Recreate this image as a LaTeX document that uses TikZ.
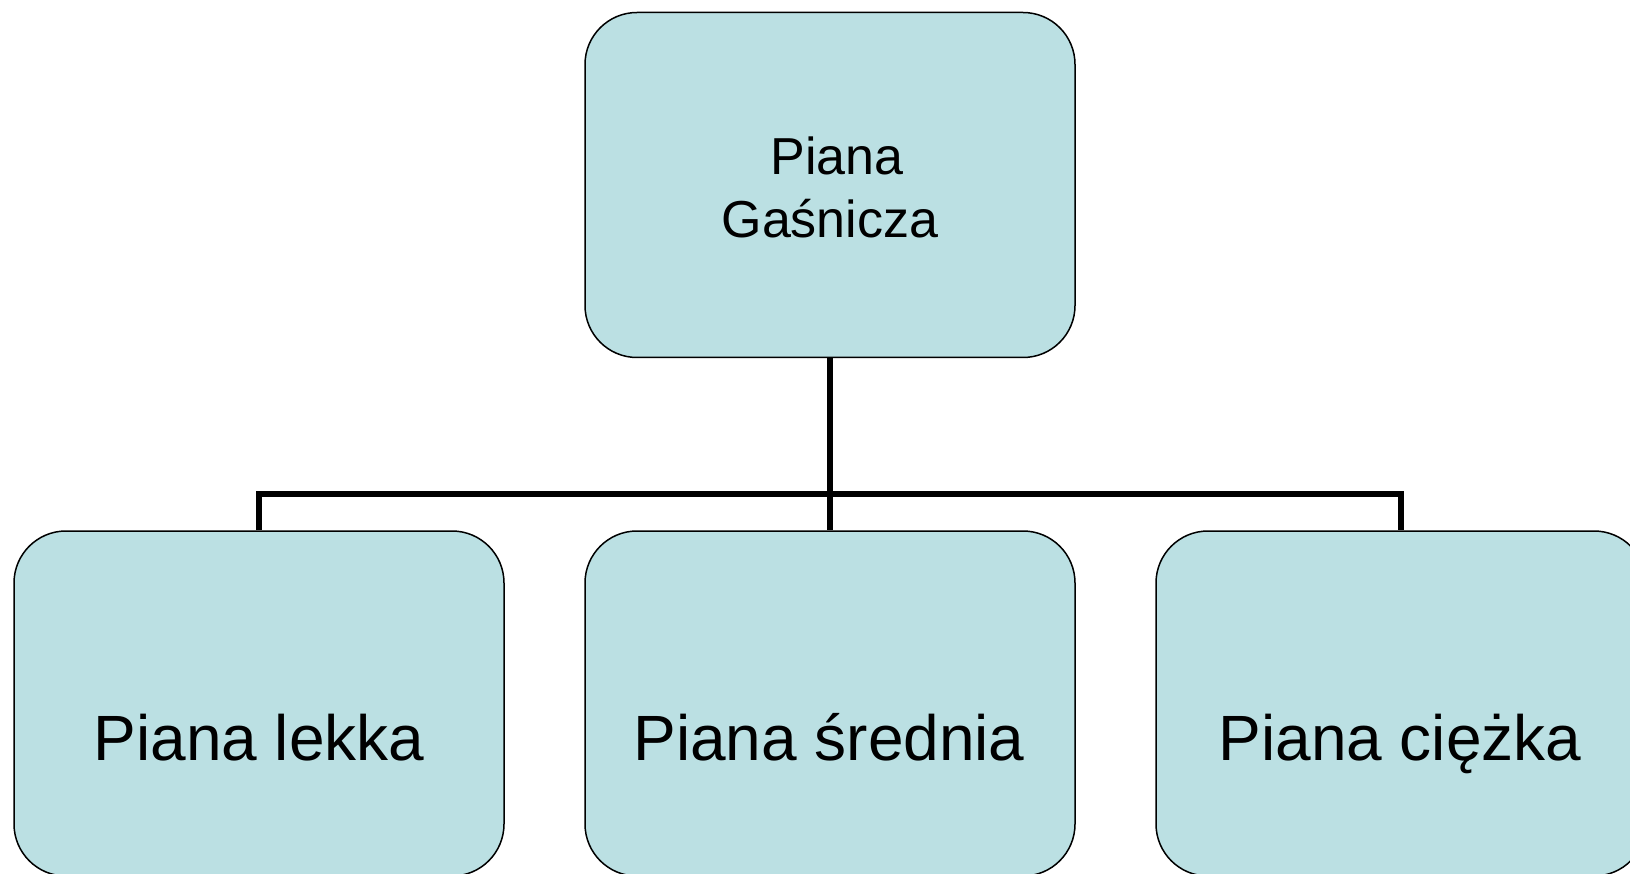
\documentclass[tikz,border=0pt]{standalone}
\usepackage{fontspec}
\setmainfont{Liberation Sans}
\definecolor{boxfill}{RGB}{187,224,227}
\tikzset{
  box/.style={draw=black, line width=1.5pt, fill=boxfill, rounded corners=52pt,
    minimum width=490pt, minimum height=345pt, inner sep=0pt},
  conn/.style={draw=black, line width=6pt},
  toptext/.style={font=\fontsize{52}{63.4}\selectfont, align=center, anchor=base, inner sep=0pt},
  bottext/.style={font=\fontsize{64}{74}\selectfont, anchor=base, inner sep=0pt}
}
\begin{document}
\begin{tikzpicture}[x=1pt,y=-1pt]
\useasboundingbox (0,0) rectangle (1630,874);
\clip (0,0) rectangle (1630,874);
\node[box] (top) at (830,185) {};
\node[box] (left) at (259,703.5) {};
\node[box] (mid) at (830,703.5) {};
\node[box] (right) at (1401,703.5) {};
\coordinate (bus) at (830,494);
\draw[conn] (top.south) -- (mid.north);
\draw[conn] (left.north) |- (bus) -| (right.north);
\node[toptext] (t0) at (830,238) {\hspace*{14.5pt}Piana\\Gaśnicza};
\node[bottext] (t1) at (259,760) {Piana lekka};
\node[bottext] (t2) at (829,760) {Piana średnia};
\node[bottext] (t3) at (1400,760) {Piana ciężka};
\end{tikzpicture}
\end{document}
